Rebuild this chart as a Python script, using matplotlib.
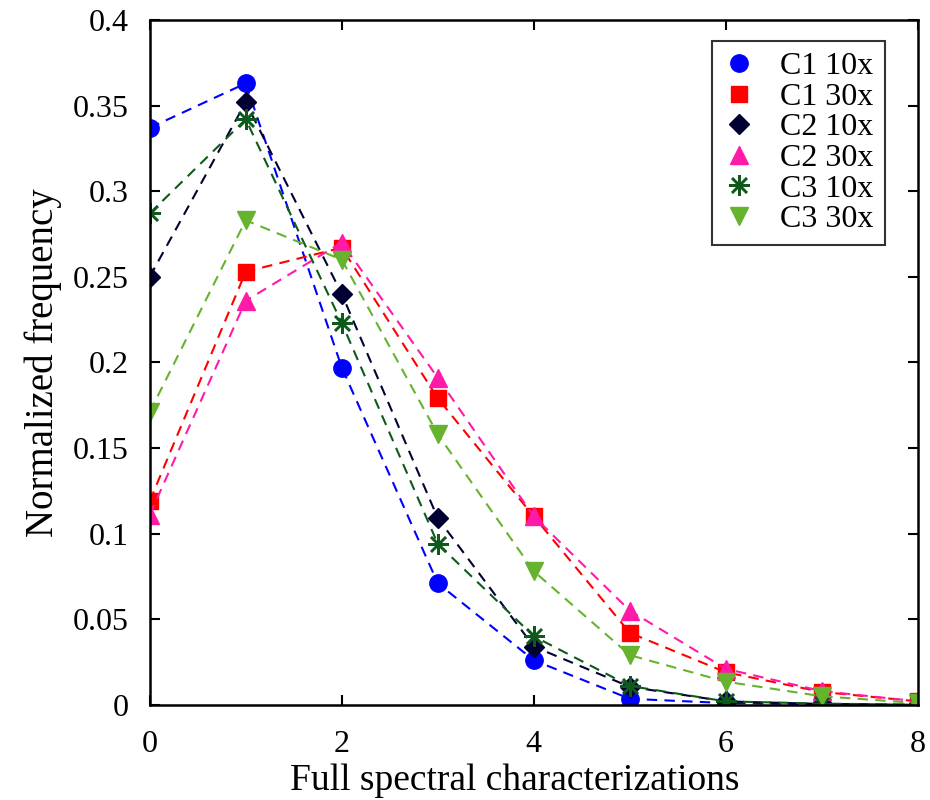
import matplotlib
matplotlib.use("Agg")
import matplotlib.pyplot as plt

plt.rcParams['font.family'] = ['Liberation Serif', 'DejaVu Serif']

x = [0, 1, 2, 3, 4, 5, 6, 7, 8]

c1_10x = [0.337, 0.363, 0.197, 0.071, 0.026, 0.0035, 0.001, 0.0003, 0.0]
c1_30x = [0.119, 0.253, 0.267, 0.179, 0.110, 0.042, 0.019, 0.0075, 0.002]
c2_10x = [0.250, 0.352, 0.240, 0.109, 0.034, 0.0105, 0.002, 0.0005, 0.0]
c2_30x = [0.111, 0.236, 0.270, 0.191, 0.110, 0.055, 0.021, 0.008, 0.002]
c3_10x = [0.287, 0.342, 0.223, 0.094, 0.040, 0.011, 0.002, 0.0007, 0.0]
c3_30x = [0.171, 0.283, 0.260, 0.158, 0.078, 0.029, 0.0135, 0.005, 0.001]

series = [
    ("C1 10x", c1_10x, '#0000FF', 'o', 12.5),
    ("C1 30x", c1_30x, '#FF0000', 's', 11),
    ("C2 10x", c2_10x, '#000033', 'D', 10),
    ("C2 30x", c2_30x, '#FF1AA8', '^', 13),
    ("C3 10x", c3_10x, '#0E5A1A', (8, 2, 0), 15),
    ("C3 30x", c3_30x, '#66B32E', 'v', 13),
]

fig = plt.figure(figsize=(9.3, 8), dpi=100)
ax = fig.add_axes([0.161, 0.119, 0.826, 0.856])

for nombre, vals, col, mk, ms in series:
    # el asterisco solo tiene borde, los demás van rellenos
    ax.plot(x, vals, linestyle='--', color=col, linewidth=1.5,
            dashes=(5, 3.5), marker=mk, markersize=ms,
            markerfacecolor=col, markeredgecolor=col,
            markeredgewidth=1.8 if mk == (8, 2, 0) else 1.0,
            label=nombre)

ax.set_xlim(0, 8)
ax.set_ylim(0, 0.4)
ax.set_xticks([0, 2, 4, 6, 8])
yt = [0, 0.05, 0.1, 0.15, 0.2, 0.25, 0.3, 0.35, 0.4]
ax.set_yticks(yt)
ax.set_yticklabels(['0', '0.05', '0.1', '0.15', '0.2', '0.25', '0.3', '0.35', '0.4'])
ax.tick_params(direction='in', top=True, right=True, length=7, width=1.5,
               labelsize=23)
ax.tick_params(axis='y', pad=15)
ax.tick_params(axis='x', pad=18)
for sp in ax.spines.values():
    sp.set_linewidth(1.8)

ax.set_xlabel("Full spectral characterizations", fontsize=27)
ax.xaxis.set_label_coords(0.475, -0.085, transform=ax.transAxes)
ax.xaxis.label.set_va('top')
ax.set_ylabel("Normalized frequency", fontsize=28, labelpad=8)

leg = ax.legend(loc='upper right', fontsize=23, frameon=True, fancybox=False,
                edgecolor='black', handlelength=1.0, handletextpad=0.8,
                labelspacing=0.04, borderpad=0.35, borderaxespad=0,
                bbox_to_anchor=(0.957, 0.97))
leg.get_frame().set_linewidth(1.5)
for h in leg.get_lines():
    h.set_linestyle('none')

fig.savefig("out.png", dpi=100)
